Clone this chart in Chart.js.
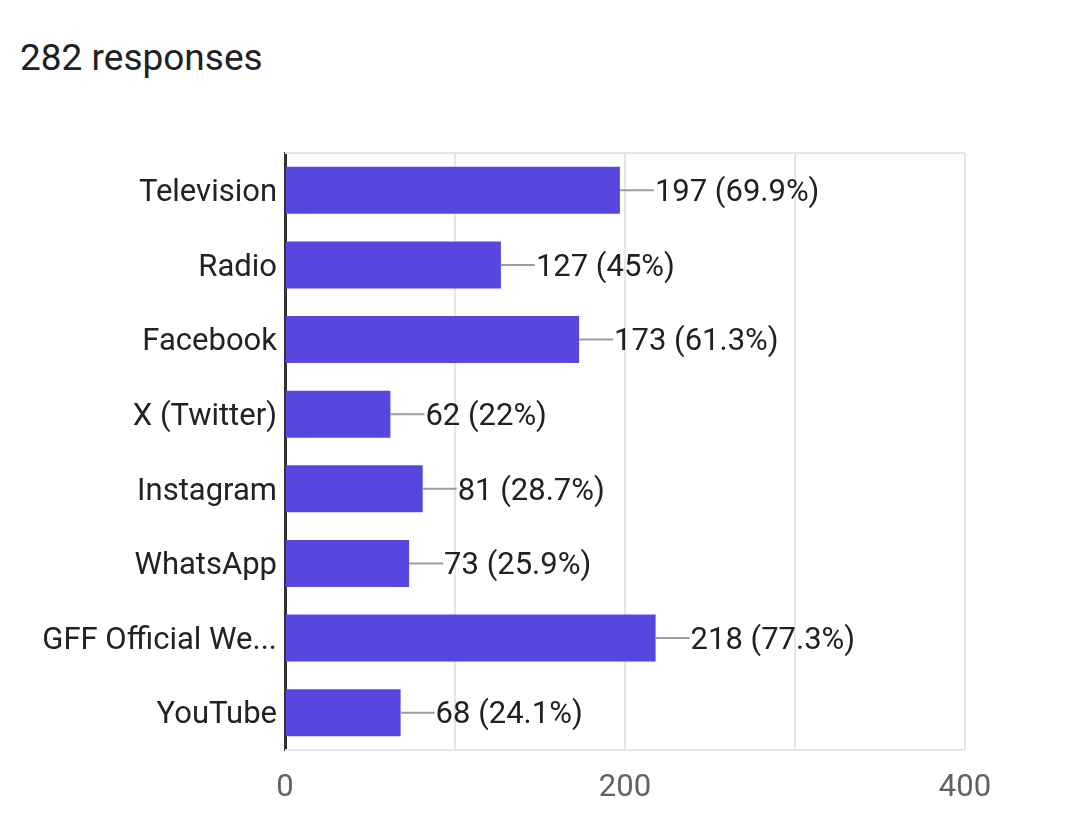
<!DOCTYPE html>
<html>
<head>
<meta charset="utf-8">
<script src="https://cdn.jsdelivr.net/npm/chart.js@4.4.1/dist/chart.umd.min.js"></script>
<style>
  html, body { margin: 0; padding: 0; background: #fff; }
  #wrap { position: relative; width: 1080px; height: 823px; }
  #title {
    position: absolute; left: 20px; top: 36px;
    font-family: Roboto, sans-serif; font-size: 37px; color: #202124;
    line-height: 44px;
  }
  canvas { position: absolute; left: 0; top: 0; }
</style>
</head>
<body>
<div id="wrap">
  <div id="title">282 responses</div>
  <canvas id="chart" width="1080" height="823"></canvas>
</div>
<script>
// chart data
const categories = [
  "Television",
  "Radio",
  "Facebook",
  "X (Twitter)",
  "Instagram",
  "WhatsApp",
  "GFF Official We...",
  "YouTube",
];
const counts = [197, 127, 173, 62, 81, 73, 218, 68];
const percentLabels = ["69.9%", "45%", "61.3%", "22%", "28.7%", "25.9%", "77.3%", "24.1%"];
const xTickLabels = [0, 200, 400];

const FONT = "Roboto, sans-serif";

// draws the "—197 (69.9%)" labels next to each bar
const valueLabels = {
  id: "valueLabels",
  afterDatasetsDraw(chart) {
    const ctx = chart.ctx;
    const meta = chart.getDatasetMeta(0);
    ctx.save();
    ctx.font = `31px ${FONT}`;
    ctx.textBaseline = "middle";
    meta.data.forEach((bar, i) => {
      const x = bar.x;
      const y = bar.y;
      ctx.strokeStyle = "#9e9e9e";
      ctx.lineWidth = 2;
      ctx.beginPath();
      ctx.moveTo(x, y);
      ctx.lineTo(x + 34, y);
      ctx.stroke();
      ctx.fillStyle = "#212121";
      ctx.fillText(`${counts[i]} (${percentLabels[i]})`, x + 35, y + 3);
    });
    ctx.restore();
  },
};

const ctx = document.getElementById("chart");
new Chart(ctx, {
  type: "bar",
  data: {
    labels: categories,
    datasets: [
      {
        data: counts,
        backgroundColor: "#5846E1",
        borderWidth: 0,
        barPercentage: 0.63,
        categoryPercentage: 1,
      },
    ],
  },
  options: {
    indexAxis: "y",
    responsive: false,
    animation: false,
    layout: {
      padding: { top: 153, right: 115, bottom: 0, left: 0 },
    },
    plugins: {
      legend: { display: false },
      tooltip: { enabled: false },
    },
    scales: {
      x: {
        min: 0,
        max: 400,
        ticks: {
          stepSize: 100,
          color: "#5f6368",
          font: { family: FONT, size: 31 },
          padding: 20,
          maxRotation: 0,
          callback: function (value) {
            return xTickLabels.includes(value) ? value : "";
          },
        },
        grid: {
          color: "#e6e6e6",
          lineWidth: 2,
          drawTicks: false,
        },
        border: { display: false },
        afterFit: function (scale) {
          scale.height = 73;
        },
      },
      y: {
        ticks: {
          color: "#222222",
          font: { family: FONT, size: 31 },
          padding: 8,
          labelOffset: 3,
        },
        grid: { display: false, drawTicks: false },
        border: { display: true, color: "#333333", width: 3 },
        afterFit: function (scale) {
          scale.width = 285;
        },
      },
    },
  },
  plugins: [
    valueLabels,
    {
      id: "frame",
      beforeDatasetsDraw(chart) {
        const a = chart.chartArea;
        const c = chart.ctx;
        c.save();
        c.strokeStyle = "#e6e6e6";
        c.lineWidth = 2;
        c.beginPath();
        c.moveTo(a.left, a.top);
        c.lineTo(a.right, a.top);
        c.moveTo(a.left, a.bottom);
        c.lineTo(a.right, a.bottom);
        c.stroke();
        c.restore();
      },
    },
  ],
});
</script>
</body>
</html>
